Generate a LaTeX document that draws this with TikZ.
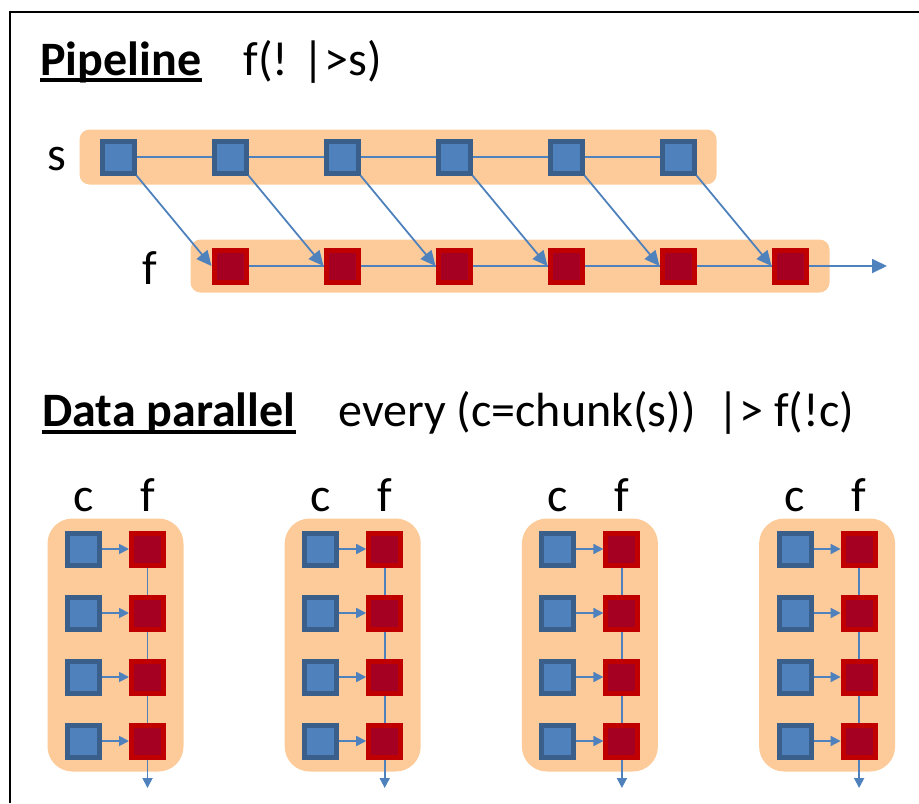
\documentclass[tikz,border=0pt]{standalone}
\usepackage{fontspec}
\setmainfont{Carlito}
\usetikzlibrary{arrows.meta,fit,backgrounds}
\definecolor{cellblue}{HTML}{4F81BD}
\definecolor{cellblueline}{HTML}{3A5F8B}
\definecolor{cellred}{HTML}{A50021}
\definecolor{cellredline}{HTML}{C00000}
\definecolor{bandorange}{HTML}{FDCB9A}

\tikzset{
  cell/.style={minimum size=16pt, inner sep=0pt, line width=2.5pt},
  src/.style={cell, fill=cellblue, draw=cellblueline},
  fun/.style={cell, fill=cellred, draw=cellredline},
  strip/.style={fill=bandorange, inner sep=0pt},
  link/.style={cellblue, line width=0.9pt},
  bigtip/.style={link, -{Triangle[length=7.5pt,width=7pt]}},
  smalltip/.style={link, -{Triangle[length=5pt,width=5pt]}},
  title/.style={anchor=base west, inner sep=0pt},
  lbl/.style={anchor=base, inner sep=0pt},
  uline/.style={line width=2pt},
}

\begin{document}
\begin{tikzpicture}[x=0.5pt, y=-0.5pt, font=\fontsize{24}{28}\selectfont]
\useasboundingbox (0,0) rectangle (919,803);
\draw[line width=1pt] (10,803) -- (10,12) -- (919,12);

% pipeline
\node[title] (pipe) at (40,75) {\bfseries Pipeline};
\draw[uline] ([yshift=-2.5pt]pipe.base west) -- ([yshift=-2.5pt]pipe.base east);
\node[title] (pipecode) at (243,75) {f(! |>s)};

\node[lbl] (slbl) at (57,170) {s};
\node[lbl] (flbl) at (150,284) {f};
\foreach \i in {1,...,6} {
  \node[src] (s\i) at ({118+112*(\i-1)},157) {};
  \node[fun] (f\i) at ({230+112*(\i-1)},266) {};
  \draw[bigtip] (s\i.south east) -- (f\i.west);
}
\foreach \i [count=\j from 2] in {1,...,5} {
  \draw[link] (s\i) -- (s\j);
  \draw[link] (f\i) -- (f\j);
}
\coordinate (fout) at (887,266);
\draw[bigtip] (f6) -- (fout);
\begin{scope}[on background layer]
  \node[strip, fit=(s1)(s6), inner xsep=10pt, inner ysep=4.5pt, rounded corners=5pt] (srow) {};
  \node[strip, fit=(f1)(f6), inner xsep=10.5pt, inner ysep=4pt, rounded corners=5pt] (frow) {};
\end{scope}

% data parallel
\node[title] (dpar) at (42,426) {\bfseries Data parallel};
\draw[uline] ([yshift=-3pt]dpar.base west) -- ([yshift=-3pt]dpar.base east);
\node[title] (dparcode) at (338,426) {every (c=chunk(s))\ \ |> f(!c)};

\foreach \k in {1,...,4} {
  \node[lbl] (clbl\k) at ({83.5+237.2*(\k-1)},511) {c};
  \node[lbl] (glbl\k) at ({147.5+237.2*(\k-1)},511) {f};
  \foreach \r in {1,...,4} {
    \node[src] (c\k\r) at ({83.5+237.2*(\k-1)},{549+64*(\r-1)}) {};
    \node[fun] (g\k\r) at ({147.5+237.2*(\k-1)},{549+64*(\r-1)}) {};
    \draw[smalltip] (c\k\r) -- (g\k\r);
  }
  \foreach \r [count=\q from 2] in {1,2,3} {
    \draw[link] (g\k\r) -- (g\k\q);
  }
  \coordinate (out\k) at ({147.5+237.2*(\k-1)},788);
  \draw[smalltip] (g\k4) -- (out\k);
  \begin{scope}[on background layer]
    \node[strip, fit=(c\k1)(g\k4), inner xsep=8.75pt, inner ysep=6pt, rounded corners=12.5pt] (blk\k) {};
  \end{scope}
}
\end{tikzpicture}
\end{document}
